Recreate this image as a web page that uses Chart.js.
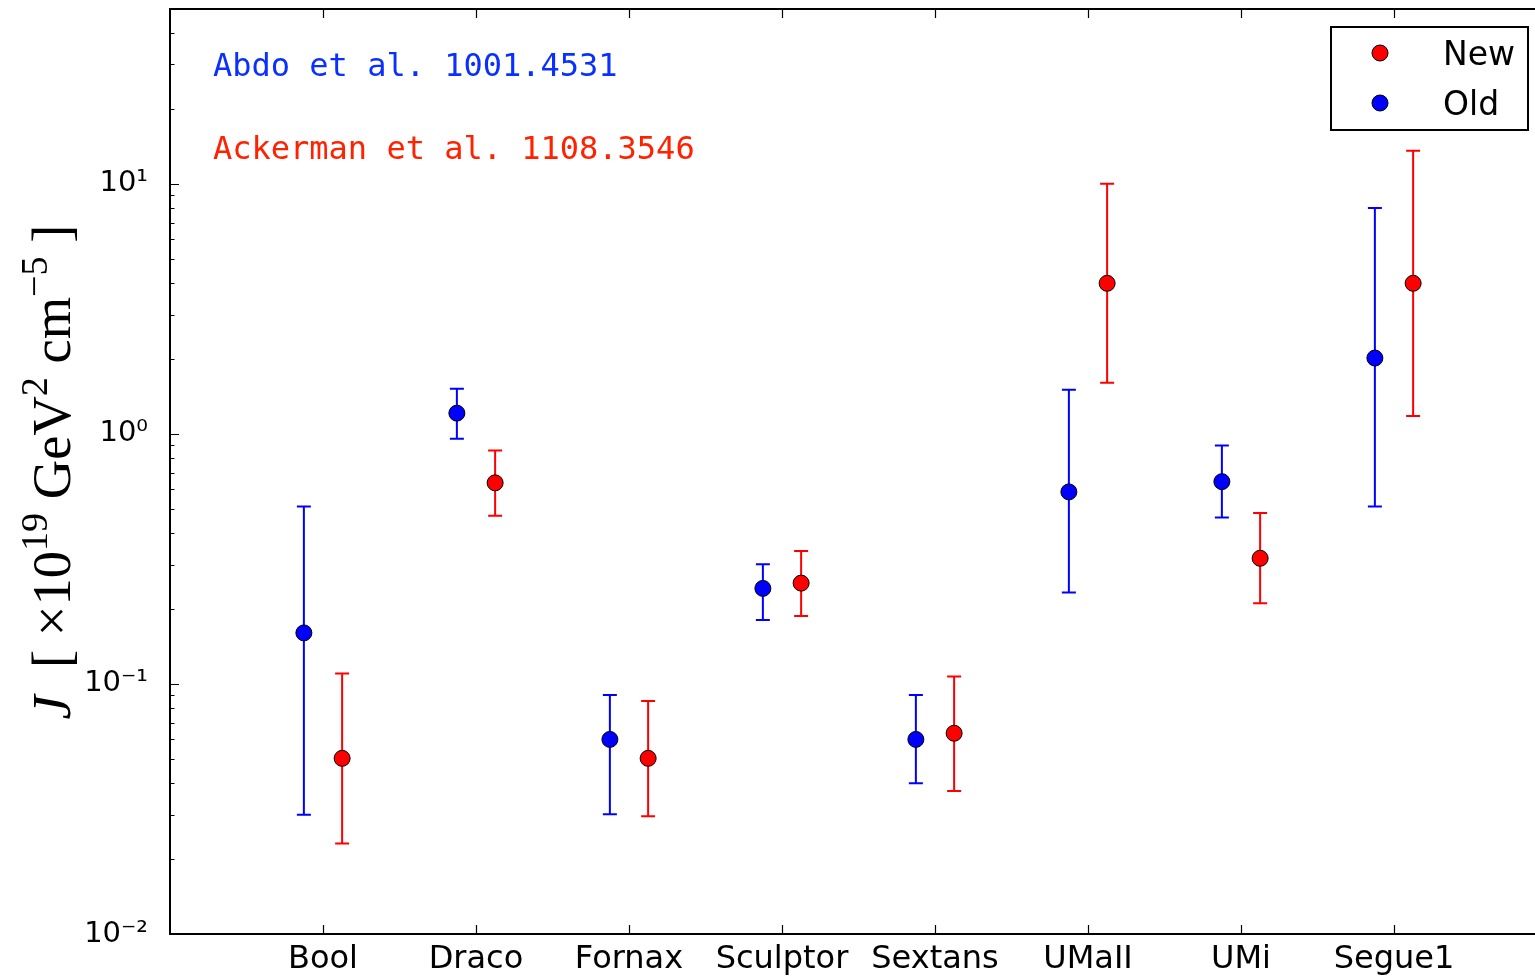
<!DOCTYPE html>
<html><head><meta charset="utf-8">
<script src="https://cdn.jsdelivr.net/npm/chart.js@4.4.0/dist/chart.umd.min.js"></script>
<style>html,body{margin:0;padding:0;background:#fff;overflow:hidden;}#wrap{width:1560px;height:978px;}</style>
</head><body><div id="wrap"><canvas id="c" width="1560" height="978"></canvas></div>
<script>
const categories = ['Bool','Draco','Fornax','Sculptor','Sextans','UMaII','UMi','Segue1'];
const oldValues = [0.160, 1.21, 0.060, 0.241, 0.060, 0.586, 0.644, 2.01];
const oldUpper  = [0.512, 1.514, 0.0904, 0.301, 0.0904, 1.50, 0.898, 8.0];
const oldLower  = [0.030, 0.955, 0.0301, 0.180, 0.0401, 0.232, 0.463, 0.512];
const newValues = [0.0504, 0.637, 0.0504, 0.253, 0.0635, 4.0, 0.318, 4.0];
const newUpper  = [0.110, 0.857, 0.0855, 0.340, 0.107, 10.0, 0.482, 13.55];
const newLower  = [0.0230, 0.471, 0.0296, 0.187, 0.0373, 1.60, 0.210, 1.18];
const yTickValues = [0.01, 0.1, 1, 10];
const yTickLabels = ['10\u207B\u00B2', '10\u207B\u00B9', '10\u2070', '10\u00B9'];
const annotationTexts = ['Abdo et al. 1001.4531', 'Ackerman et al. 1108.3546'];
const seriesNames = ['New', 'Old'];

const BLUE = '#0000ff', RED = '#ff0000';
const offOld = -0.125, offNew = 0.125;

function mk(vals, lo, hi, off) {
  return categories.map((c, i) => ({x: i + 1 + off, y: vals[i], lo: lo[i], hi: hi[i]}));
}

const errorBars = {
  id: 'errorBars',
  beforeDatasetsDraw(chart) {
    const ctx = chart.ctx, xs = chart.scales.x, ys = chart.scales.y;
    chart.data.datasets.forEach(ds => {
      ctx.save();
      ctx.strokeStyle = ds.backgroundColor; ctx.lineWidth = 2;
      ds.data.forEach(p => {
        const x = xs.getPixelForValue(p.x);
        const y1 = ys.getPixelForValue(p.hi), y2 = ys.getPixelForValue(p.lo);
        ctx.beginPath();
        ctx.moveTo(x, y1); ctx.lineTo(x, y2);
        ctx.moveTo(x - 7, y1); ctx.lineTo(x + 7, y1);
        ctx.moveTo(x - 7, y2); ctx.lineTo(x + 7, y2);
        ctx.stroke();
      });
      ctx.restore();
    });
  },
  afterDatasetsDraw(chart) {
    const ctx = chart.ctx, ca = chart.chartArea, xs = chart.scales.x, ys = chart.scales.y;
    ctx.save();
    ctx.strokeStyle = '#000';
    ctx.lineWidth = 2;
    ctx.strokeRect(ca.left, ca.top, ca.right - ca.left, ca.bottom - ca.top);
    ctx.lineWidth = 1.2;
    ctx.beginPath();
    for (let i = 1; i <= categories.length; i++) {
      const x = Math.round(xs.getPixelForValue(i)) + 0.5;
      ctx.moveTo(x, ca.bottom); ctx.lineTo(x, ca.bottom - 9);
      ctx.moveTo(x, ca.top); ctx.lineTo(x, ca.top + 9);
    }
    for (let e = -2; e <= 1; e++) {
      for (let m = 1; m <= 9; m++) {
        const v = m * Math.pow(10, e);
        if (v > ys.max) continue;
        const y = Math.round(ys.getPixelForValue(v)) + 0.5;
        const L = m === 1 ? 9 : 4.5;
        ctx.moveTo(ca.left, y); ctx.lineTo(ca.left + L, y);
        ctx.moveTo(ca.right, y); ctx.lineTo(ca.right - L, y);
      }
    }
    ctx.stroke();
    ctx.restore();
  },
  afterDraw(chart) {
    const ctx = chart.ctx;
    ctx.save();
    // annotations
    ctx.font = '32px "DejaVu Sans Mono"';
    ctx.textBaseline = 'alphabetic';
    ctx.fillStyle = '#0a30ff';
    ctx.fillText(annotationTexts[0], 213, 76);
    ctx.fillStyle = '#ff2200';
    ctx.fillText(annotationTexts[1], 213, 159);
    // legend
    ctx.lineWidth = 2; ctx.strokeStyle = '#000';
    ctx.strokeRect(1331, 27, 197, 103);
    const ds = chart.data.datasets;
    [[ds[0], 53], [ds[1], 103]].forEach(([d, y]) => {
      ctx.beginPath(); ctx.arc(1380, y, 8, 0, Math.PI * 2);
      ctx.fillStyle = d.backgroundColor; ctx.fill();
      ctx.lineWidth = 1; ctx.strokeStyle = '#000'; ctx.stroke();
      ctx.fillStyle = '#000'; ctx.font = '33px "DejaVu Sans"';
      ctx.fillText(d.label, 1443, y + 12);
    });
    // y-axis title
    ctx.translate(70, 472); ctx.rotate(-Math.PI / 2);
    let F = 46;
    const fam = '"Liberation Serif", "DejaVu Serif", serif';
    const pieces = () => [
      {t: 'J', f: `italic ${F}px ${fam}`, dy: 0},
      {t: '  [ \u00D710', f: `${F}px ${fam}`, dy: 0},
      {t: '19', f: `${F * 0.7}px ${fam}`, dy: -F * 0.42},
      {t: ' GeV', f: `${F}px ${fam}`, dy: 0},
      {t: '2', f: `${F * 0.7}px ${fam}`, dy: -F * 0.42},
      {t: ' cm', f: `${F}px ${fam}`, dy: 0},
      {t: '\u22125', f: `${F * 0.7}px ${fam}`, dy: -F * 0.42},
      {t: ' ]', f: `${F}px ${fam}`, dy: 0}
    ];
    const measure = () => pieces().reduce((s, p) => { ctx.font = p.f; return s + ctx.measureText(p.t).width; }, 0);
    F = F * 495 / measure();
    let x = -measure() / 2;
    ctx.fillStyle = '#000';
    pieces().forEach(p => { ctx.font = p.f; ctx.fillText(p.t, x, p.dy); x += ctx.measureText(p.t).width; });
    ctx.restore();
  }
};

new Chart(document.getElementById('c'), {
  type: 'scatter',
  data: {
    datasets: [
      {label: seriesNames[0], data: mk(newValues, newLower, newUpper, offNew), backgroundColor: RED, borderColor: '#000', borderWidth: 1, pointRadius: 8},
      {label: seriesNames[1], data: mk(oldValues, oldLower, oldUpper, offOld), backgroundColor: BLUE, borderColor: '#000', borderWidth: 1, pointRadius: 8}
    ]
  },
  options: {
    responsive: false, animation: false,
    layout: {padding: {left: 0, top: 9, right: 13, bottom: 0}},
    plugins: {legend: {display: false}, tooltip: {enabled: false}},
    scales: {
      x: {
        type: 'linear', min: 0, max: 9,
        afterFit(s) { s.height = 44; s.paddingLeft = 0; s.paddingRight = 0; },
        grid: {display: false}, border: {display: false},
        ticks: {stepSize: 1, autoSkip: false, maxRotation: 0, padding: -2, color: '#000',
          font: {family: 'DejaVu Sans', size: 32},
          callback: v => categories[v - 1] ?? ''}
      },
      y: {
        type: 'logarithmic', min: 0.01, max: 50,
        afterFit(s) { s.width = 170; s.paddingTop = 0; s.paddingBottom = 0; },
        grid: {display: false}, border: {display: false},
        ticks: {padding: 14, color: '#000', autoSkip: false,
          font: {family: 'DejaVu Sans', size: 29},
          callback: v => { const k = yTickValues.findIndex(t => Math.abs(t - v) / t < 1e-6); return k >= 0 ? yTickLabels[k] : ''; }}
      }
    }
  },
  plugins: [errorBars]
});
</script></body></html>
